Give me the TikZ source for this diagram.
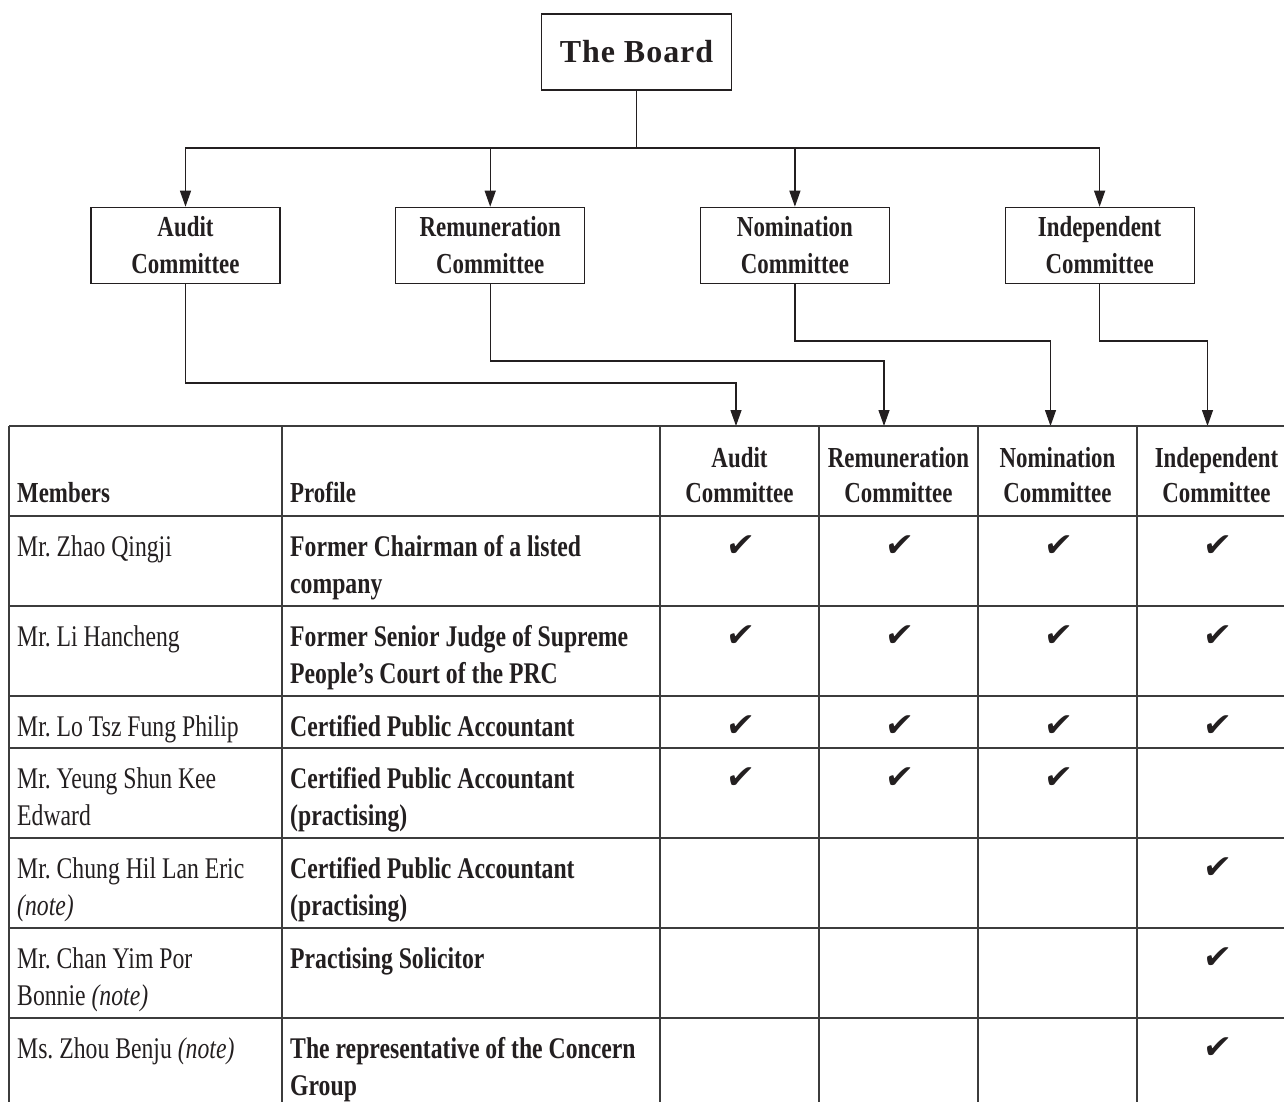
\documentclass[tikz,border=0pt]{standalone}
\usepackage{fontspec}
\setmainfont{Liberation Serif}
\newfontfamily\condfont{Liberation Serif}[FakeStretch=0.79]
\newfontfamily\tickfont{DejaVu Sans}[FakeSlant=0.12]
\usetikzlibrary{arrows.meta}
\usetikzlibrary{calc}
\usetikzlibrary{positioning}
\definecolor{ink}{HTML}{231F20}
\definecolor{rule}{HTML}{3C3C3C}
\frenchspacing
\newcommand{\stackLeft}[2]{\vtop{\halign{##\hfil\cr#1\cr#2\cr}}}
\newcommand{\stackCentre}[2]{\vtop{\halign{\hfil##\hfil\cr#1\cr#2\cr}}}
\newcommand{\drawMemberRow}[5]{
	\node[memtext] (mem#1) at (17,#2+40) {#3};
	\node[proftext] (prof#1) at (290,#2+40) {#4};
	\foreach \c in {#5} {
		\node[tickmark] (tick#1\c) at ({660+159*(\c-0.5)},#2+30) {✔};
	}
}

\begin{document}
\begin{tikzpicture}[x=1pt,y=-1pt,
	conn/.style={line width=1.2pt, draw=ink},
	link/.style={conn, -{Triangle[width=11pt,length=16pt]}},
	boardbox/.style={draw=ink, line width=1.2pt, minimum width=190pt, minimum height=76pt, inner sep=0pt, text=ink, font=\bfseries\fontsize{32}{38}\selectfont\addfontfeature{LetterSpace=3}},
	combox/.style={draw=ink, line width=1.2pt, minimum width=189pt, minimum height=76pt, inner sep=0pt, align=center, text=ink, font=\condfont\bfseries\fontsize{29}{37}\selectfont},
	grid/.style={line width=1.5pt, draw=rule},
	headtext/.style={anchor=base, inner sep=0pt, text=ink, font=\condfont\bfseries\fontsize{29}{35}\selectfont},
	memtext/.style={anchor=base west, inner sep=0pt, text=ink, font=\condfont\fontsize{30}{37}\selectfont},
	proftext/.style={anchor=base west, inner sep=0pt, text=ink, font=\condfont\bfseries\fontsize{30}{37}\selectfont},
	tickmark/.style={inner sep=0pt, text=ink, font=\tickfont\fontsize{33}{33}\selectfont}]

	\useasboundingbox (0,0) rectangle (1284,1101);
	\clip (0,0) rectangle (1284,1101);

	\node[boardbox] (board) at (636.5,52) {The Board};
	\node[combox] (audit) at (185.5,245.3) {Audit\\Committee};
	\node[combox, right=114.5pt of audit] (remun) {Remuneration\\Committee};
	\node[combox, right=114.5pt of remun] (nomin) {Nomination\\Committee};
	\node[combox, right=114.5pt of nomin] (indep) {Independent\\Committee};

	\coordinate (split) at (636.5,148);
	\draw[conn] (board.south) -- (split);
	\foreach \c in {audit,remun,nomin,indep}
		\draw[link] (split) -| (\c.north);

	\coordinate (tAudit) at (736,426);
	\coordinate (tRemun) at (884,426);
	\coordinate (tNomin) at (1050.5,426);
	\coordinate (tIndep) at (1207.5,426);

	\draw[link] (audit.south) -- ++(0,99) -| (tAudit);
	\draw[link] (remun.south) -- ++(0,77) -| (tRemun);
	\draw[link] (nomin.south) -- ++(0,57) -| (tNomin);
	\draw[link] (indep.south) -- ++(0,57) -| (tIndep);

	\foreach \y in {426,516,606,696,748,838,928,1018}
		\draw[grid] (9,\y) -- (1300,\y);
	\foreach \x in {9,282,660,819,978,1137}
		\draw[grid] (\x,426) -- (\x,1110);

	\node[headtext, anchor=base west] (hMembers) at (17,502) {Members};
	\node[headtext, anchor=base west] (hProfile) at (290,502) {Profile};
	\foreach \c/\n/\t in {1/hAudit/Audit,2/hRemun/Remuneration,3/hNomin/Nomination,4/hIndep/Independent}
		\node[headtext] (\n) at ({660+159*(\c-0.5)},467) {\stackCentre{\t}{Committee}};

	\drawMemberRow{1}{516}{Mr. Zhao Qingji}{\stackLeft{Former Chairman of a listed}{company}}{1,2,3,4}
	\drawMemberRow{2}{606}{Mr. Li Hancheng}{\stackLeft{Former Senior Judge of Supreme}{People’s Court of the PRC}}{1,2,3,4}
	\drawMemberRow{3}{696}{Mr. Lo Tsz Fung Philip}{Certified Public Accountant}{1,2,3,4}
	\drawMemberRow{4}{748}{\stackLeft{Mr. Yeung Shun Kee}{Edward}}{\stackLeft{Certified Public Accountant}{(practising)}}{1,2,3}
	\drawMemberRow{5}{838}{\stackLeft{Mr. Chung Hil Lan Eric}{\textit{(note)}}}{\stackLeft{Certified Public Accountant}{(practising)}}{4}
	\drawMemberRow{6}{928}{\stackLeft{Mr. Chan Yim Por}{Bonnie \textit{(note)}}}{Practising Solicitor}{4}
	\drawMemberRow{7}{1018}{Ms. Zhou Benju \textit{(note)}}{\stackLeft{The representative of the Concern}{Group}}{4}

\end{tikzpicture}
\end{document}
